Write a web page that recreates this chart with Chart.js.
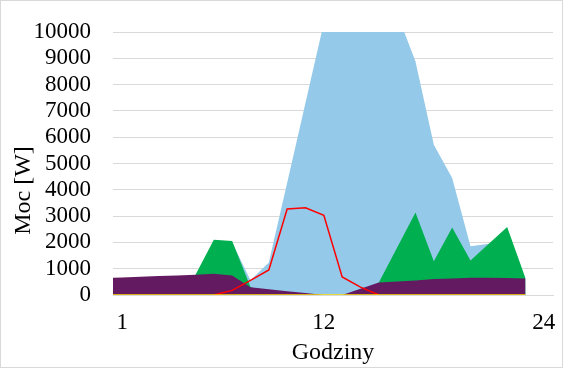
<!DOCTYPE html>
<html>
<head>
<meta charset="utf-8">
<script src="https://cdn.jsdelivr.net/npm/chart.js@4.4.1/dist/chart.umd.min.js"></script>
<style>
    body { margin: 0; background: #fff; }
    #wrap { width: 563px; height: 368px; box-sizing: border-box; border: 1px solid #d9d9d9; }
    canvas { display: block; }
</style>
</head>
<body>
<div id="wrap"><canvas id="myChart" width="561" height="366"></canvas></div>
<script>
// hours of the day (one point per hour)
const hours = [0, 1, 2, 3, 4, 5, 6, 7, 8, 9, 10, 11, 12, 13, 14, 15, 16, 17, 18, 19, 20, 21, 22, 23];

// series values [W]
const blueValues = [0, 0, 0, 0, 0, 0, 700, 2000, 560, 1240, 4270, 7310, 10350, 11500, 11800, 11300, 10700, 8880, 5715, 4450, 1850, 1950, 2000, 500];
const greenValues = [0, 0, 0, 0, 0, 772, 2100, 2053, 300, 0, 0, 0, 0, 0, 0, 480, 1810, 3140, 1280, 2570, 1315, 1950, 2585, 640];
const purpleValues = [645, 670, 695, 720, 745, 772, 810, 745, 290, 217, 145, 75, 0, 0, 240, 480, 515, 555, 608, 630, 658, 660, 646, 631];
const redValues = [null, null, null, null, null, null, 0, 175, 555, 950, 3270, 3320, 3030, 684, 300, 0, null, null, null, null, null, null, null, null];
const yellowValues = [0, 0, 0, 0, 0, 0, 0, 0, 0, 0, 0, 0, 0, 0, 0, 0, 0, 0, 0, 0, 0, 0, 0, 0];

// axes
const xTickValues = [1, 12, 24];
const yMax = 10000;
const yStep = 1000;
const xTitle = 'Godziny';
const yTitle = 'Moc [W]';

const font = 'Liberation Serif';
const clear = 'rgba(0,0,0,0)';

function points(values) {
    return hours.map((h, i) => ({ x: h, y: values[i] }));
}

function area(values, color) {
    return {
        data: points(values),
        backgroundColor: color,
        borderWidth: 0,
        pointRadius: 0,
        fill: 'origin',
        tension: 0
    };
}

function line(values, color, width) {
    return {
        data: points(values),
        borderColor: color,
        borderWidth: width,
        pointRadius: 0,
        fill: false,
        tension: 0
    };
}

const ctx = document.getElementById('myChart').getContext('2d');

// first dataset is drawn on top
const chart = new Chart(ctx, {
    type: 'line',
    data: {
        datasets: [
            line(yellowValues, '#FFE000', 1.5),
            line(redValues, '#FF0000', 1.5),
            area(purpleValues, '#641A61'),
            area(greenValues, '#00B050'),
            area(blueValues, '#95C9E9')
        ]
    },
    options: {
        responsive: false,
        animation: false,
        layout: { padding: { top: 31, right: 9, left: 0, bottom: 0 } },
        plugins: {
            legend: { display: false },
            tooltip: { enabled: false }
        },
        scales: {
            x: {
                type: 'linear',
                min: 0.5,
                max: 24.5,
                afterBuildTicks: axis => { axis.ticks = xTickValues.map(v => ({ value: v })); },
                afterFit: axis => { axis.height = 72; },
                // invisible tick marks only used as spacing
                grid: { color: clear, tickColor: clear, drawTicks: true, tickLength: 14 },
                border: { display: true, color: '#d9d9d9', width: 1 },
                ticks: {
                    color: '#000',
                    padding: 0,
                    maxRotation: 0,
                    autoSkip: false,
                    font: { family: font, size: 23 }
                },
                title: {
                    display: true,
                    text: xTitle,
                    color: '#000',
                    padding: { top: 0, bottom: 0 },
                    font: { family: font, size: 24 }
                }
            },
            y: {
                min: 0,
                max: yMax,
                afterFit: axis => { axis.width = 112; },
                grid: { color: '#d9d9d9', tickColor: clear, drawTicks: true, tickLength: 22 },
                border: { display: false },
                ticks: {
                    stepSize: yStep,
                    autoSkip: false,
                    color: '#000',
                    padding: 0,
                    font: { family: font, size: 23 },
                    callback: value => String(value)
                },
                title: {
                    display: true,
                    text: yTitle + '         ',
                    color: '#000',
                    padding: { top: 8, bottom: 0 },
                    font: { family: font, size: 24 }
                }
            }
        }
    }
});
</script>
</body>
</html>
